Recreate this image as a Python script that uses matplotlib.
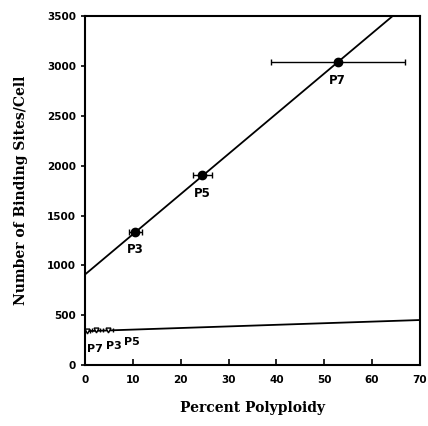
import numpy as np
from matplotlib import pyplot as plt

# Diploid/polyploid binding data for passages P3, P5, P7
labels = ['P3', 'P5', 'P7']
poly_pct = [10.5, 24.5, 52.8]
poly_err = [1.3, 2.0, 14.0]
sites = [1340, 1910, 3040]

# Low-affinity set near zero polyploidy
low_pct = [0.4, 2.2, 4.8]
low_err = [0.6, 0.8, 1.0]
low_sites = [345, 350, 355]
low_labels = ['P7', 'P3', 'P5']
low_label_pos = [(2.0, 160), (5.9, 195), (9.8, 235)]

# Fitted lines: intercept, slope
fit_high = (910, 40.3)
fit_low = (340, 1.6)

plt.rcParams['font.weight'] = 'bold'
fig = plt.figure(figsize=(4.28, 4.26), dpi=100)
ax = fig.add_axes([0.199, 0.143, 0.782, 0.819])

x = np.linspace(0, 70, 200)
ax.plot(x, fit_high[0] + fit_high[1] * x, color='black', lw=1.3)
ax.plot(x, fit_low[0] + fit_low[1] * x, color='black', lw=1.3)

ax.errorbar(poly_pct, sites, xerr=poly_err, fmt='o', color='black',
            ms=6, capsize=2, elinewidth=1.0)
for px, py, lab in zip(poly_pct, sites, labels):
    ax.text(px, py - 120, lab, ha='center', va='top', fontsize=8.5,
            fontweight='bold')

ax.errorbar(low_pct, low_sites, xerr=low_err, fmt='v', color='black',
            mfc='white', ms=3.5, capsize=1.5, elinewidth=0.8)
for (lx, ly), lab in zip(low_label_pos, low_labels):
    ax.text(lx, ly, lab, ha='center', va='center', fontsize=8,
            fontweight='bold')

ax.set_xlim(0, 70)
ax.set_ylim(0, 3500)
ax.set_xticks(range(0, 71, 10))
ax.set_yticks(range(0, 3501, 500))
ax.tick_params(direction='in', length=4, width=1.2, labelsize=7.5)
ax.tick_params(axis='x', pad=7)
ax.tick_params(axis='y', direction='out', length=3)
for lab in ax.get_xticklabels() + ax.get_yticklabels():
    lab.set_fontweight('bold')
for s in ax.spines.values():
    s.set_linewidth(1.5)

ax.set_xlabel('Percent Polyploidy', family='DejaVu Serif', fontsize=10,
              fontweight='bold', labelpad=12)
ax.set_ylabel('Number of Binding Sites/Cell', family='DejaVu Serif',
              fontsize=10, fontweight='bold', labelpad=14)

fig.savefig('out.png', dpi=100)
